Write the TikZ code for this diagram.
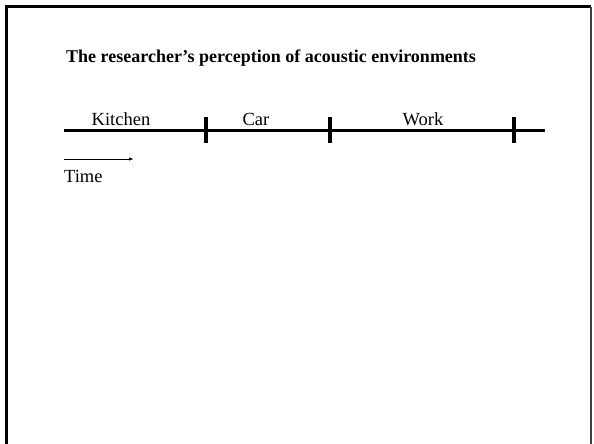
\documentclass[tikz,border=0pt]{standalone}
\usepackage{fontspec}
\setmainfont{Liberation Serif}
\usetikzlibrary{arrows.meta}
\begin{document}
\begin{tikzpicture}[x=1pt,y=-1pt,
  frame/.style={line width=3pt,black},
  rightedge/.style={line width=2pt,black!75},
  axis/.style={line width=3pt,black},
  tick/.style={line width=4pt,black},
  label/.style={font=\fontsize{18.5}{20}\selectfont,anchor=base,inner sep=0pt},
  titletext/.style={font=\fontsize{18}{20}\selectfont\bfseries,anchor=base west,inner sep=0pt},
  timearrow/.style={line width=0.9pt,-{Latex[length=5pt,width=3.5pt]}}]
\useasboundingbox (0,0) rectangle (594,444);
\fill[white] (0,0) rectangle (594,444);
% page frame: open at the bottom
\draw[frame] (6,444) -- (6,7) -- (591,7);
\draw[rightedge] (591,7) -- (591,444);
% title
\node[titletext] (title) at (66,63) {The researcher’s perception of acoustic environments};
% timeline and its boundaries
\coordinate (start) at (64,130);
\coordinate (end) at (545,130);
\draw[axis] (start) -- (end);
\coordinate (b1) at (206,130);
\coordinate (b2) at (330,130);
\coordinate (b3) at (514,130);
\foreach \b in {b1,b2,b3}
  \draw[tick] ([yshift=-13pt]\b) -- ([yshift=13pt]\b);
% segment names
\node[label] (kitchen) at (121,125) {Kitchen};
\node[label] (car) at (256,125) {Car};
\node[label] (work) at (423,125) {Work};
% direction of time
\coordinate (t0) at (64,159);
\coordinate (t1) at (134,159);
\draw[timearrow] (t0) -- (t1);
\node[label,anchor=base west] (time) at (64,182) {Time};
\end{tikzpicture}
\end{document}
